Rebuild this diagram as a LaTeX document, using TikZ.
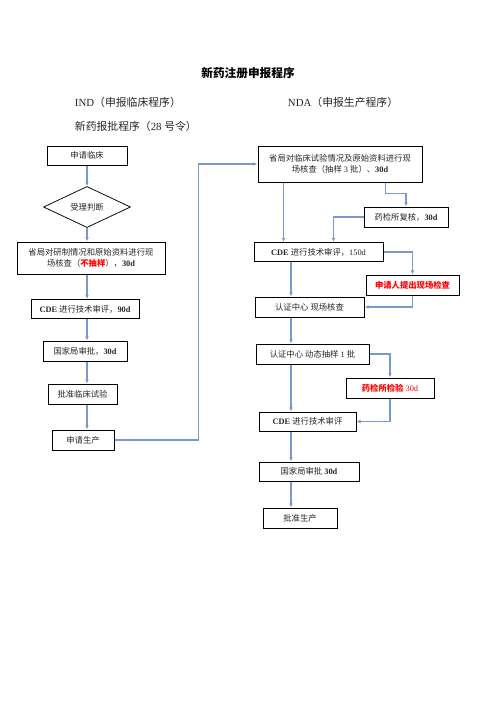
\documentclass[tikz,border=0pt]{standalone}
\usepackage{fontspec}
\setmainfont{Liberation Serif}
\newfontfamily\cjk{Noto Sans CJK SC}
\usepackage{xcolor}
\usetikzlibrary{positioning,arrows.meta,calc,shapes.geometric}
\definecolor{flowblue}{RGB}{120,154,200}
\newcommand\zh[1]{{\cjk #1}}

\begin{document}
\begin{tikzpicture}[
  x=1.2pt, y=-1.2pt,
  every node/.style={font=\fontsize{10}{13}\selectfont, text=black!85},
  box/.style={draw=black, line width=1.2pt, inner sep=0pt, align=center},
  judgebox/.style={draw=black, line width=0.9pt, diamond, inner sep=0pt, minimum width=104.4pt, minimum height=36pt},
  flow/.style={draw=flowblue, line width=1.4pt, -{Latex[length=5pt,width=4.5pt]}},
  head/.style={anchor=west, font=\fontsize{13}{15}\selectfont},
  hot/.style={text=red, font=\fontsize{10}{13}\selectfont\bfseries}
]
\useasboundingbox (0,0) rectangle (496,702);

\node[font=\fontsize{14}{16}\selectfont\bfseries, text=black] (title) at (248,73) {\zh{新药注册申报程序}};
\node[head] (ind) at (72,102) {IND\zh{（申报临床程序）}};
\node[head] (nda) at (285,102) {NDA\zh{（申报生产程序）}};
\node[head] (rule) at (72,126) {\zh{新药报批程序（}28 \zh{号令）}};

% IND
\node[box, minimum width=96pt, minimum height=22.8pt] (apply) at (87,155.5) {\zh{申请临床}};
\node[judgebox] (judge) at (87,207) {\zh{受理判断}};
\node[box, minimum width=177.6pt, minimum height=38.4pt] (prov) at (91,258)
  {\zh{省局对研制情况和原始资料进行现}\\\zh{场核查（}{\color{red}\bfseries\zh{不抽样}}\zh{），}\textbf{30d}};
\node[box, minimum width=129.6pt, minimum height=22.8pt] (cde1) at (85,309) {\textbf{CDE} \zh{进行技术审评，}\textbf{90d}};
\node[box, minimum width=100.8pt, minimum height=24pt] (sfda1) at (85,351) {\zh{国家局审批，}\textbf{30d}};
\node[box, minimum width=82.8pt, minimum height=24pt] (trial) at (82.5,394) {\zh{批准临床试验}};
\node[box, minimum width=74.4pt, minimum height=24pt] (prod) at (83,440) {\zh{申请生产}};

\draw[flow] (apply.south -| judge) -- (judge.north);
\draw[flow] (judge.south) -- (prov.north -| judge);
\draw[flow] (prov.south -| judge) -- (cde1.north -| judge);
\draw[flow] (cde1.south -| judge) -- (sfda1.north -| judge);
\draw[flow] (sfda1.south -| judge) -- (trial.north -| judge);
\draw[flow] (trial.south -| judge) -- (prod.north -| judge);

% NDA
\coordinate (axis) at (291,0);
\node[box, minimum width=196.8pt, minimum height=43.2pt] (prov2) at (340,164)
  {\zh{省局对临床试验情况及原始资料进行现}\\\zh{场核查（抽样} 3 \zh{批）、}\textbf{30d}};
\node[box, minimum width=100.8pt, minimum height=24pt] (lab1) at (406,217) {\zh{药检所复核，}\textbf{30d}};
\node[box, minimum width=154.8pt, minimum height=22.8pt] (cde2) at (318.5,252) {\textbf{CDE} \zh{进行技术审评，}150d};
\node[box, minimum width=111.6pt, minimum height=24pt, hot] (req) at (412.5,285) {\zh{申请人提出现场检查}};
\node[box, minimum width=130.8pt, minimum height=24pt] (cert1) at (309.5,307) {\zh{认证中心} \zh{现场核查}};
\node[box, minimum width=135.6pt, minimum height=24pt] (cert2) at (312.5,354) {\zh{认证中心} \zh{动态抽样} 1 \zh{批}};
\node[box, minimum width=105.6pt, minimum height=24pt, hot] (lab2) at (390,388) {\zh{药检所检验} {\mdseries 30d}};
\node[box, minimum width=116.4pt, minimum height=22.8pt] (cde3) at (307.5,421.5) {\textbf{CDE} \zh{进行技术审评}};
\node[box, minimum width=120pt, minimum height=22.8pt] (sfda2) at (309,471.5) {\zh{国家局审批} \textbf{30d}};
\node[box, minimum width=88.8pt, minimum height=24pt] (approve) at (300,518) {\zh{批准生产}};

\coordinate (split) at ($(prov2.south west)+(26,0)$);
\coordinate (fork) at ($(prov2.south east)+(-37,0)$);
\coordinate (merge) at ($(cde2.north east)+(-50,0)$);

\draw[flow] (prod.east) -- ++(84,0) |- (prov2.west);
\draw[flow] (split) -- (split |- cde2.north);
\draw[flow] (fork) -- ++(0,11) -| (lab1.north);
\draw[flow] (lab1.west) -| (merge);
\draw[flow] (cde2.east) -| (req.north);
\draw[flow] (req.south) |- (cert1.east);
\draw[flow] (cde2.south -| axis) -- (cert1.north -| axis);
\draw[flow] (cert1.south -| axis) -- (cert2.north -| axis);
\draw[flow] (cert2.east) -| (lab2.north);
\draw[flow] (lab2.south) |- (cde3.east);
\draw[flow] (cert2.south -| axis) -- (cde3.north -| axis);
\draw[flow] (cde3.south -| axis) -- (sfda2.north -| axis);
\draw[flow] (sfda2.south -| axis) -- (approve.north -| axis);
\end{tikzpicture}
\end{document}
